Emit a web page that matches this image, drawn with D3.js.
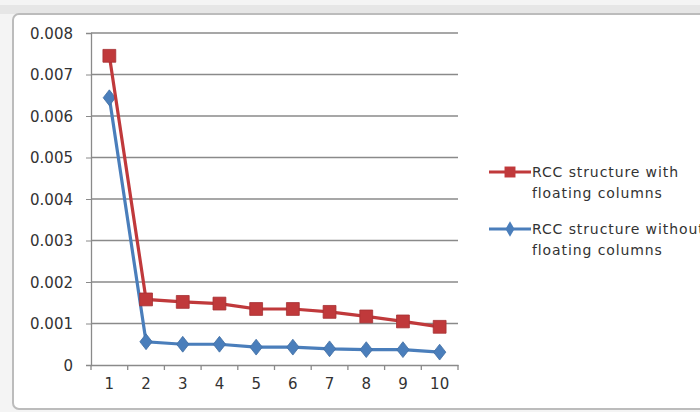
<!DOCTYPE html>
<html><head><meta charset="utf-8">
<script src="https://cdn.jsdelivr.net/npm/d3@7"></script>
<style>body{margin:0;background:#fff;}svg{display:block;font-family:"DejaVu Sans",Verdana,sans-serif;}</style>
</head><body>
<svg id="c" width="700" height="412"></svg>
<script>
const categories = ["1","2","3","4","5","6","7","8","9","10"];
const withFloating = [0.00745,0.00158,0.00152,0.00148,0.00135,0.00135,0.00128,0.00117,0.00105,0.00092];
const withoutFloating = [0.00644,0.00056,0.00050,0.00050,0.00043,0.00043,0.00039,0.00037,0.00037,0.00031];
const yTicks = [0,0.001,0.002,0.003,0.004,0.005,0.006,0.007,0.008];
const seriesNames = ["RCC structure with floating columns","RCC structure without floating columns"];

const svg = d3.select("#c");
// frame
svg.append("rect").attr("x",0).attr("y",0).attr("width",700).attr("height",412).attr("fill","#f4f4f4");
svg.append("rect").attr("x",0).attr("y",5).attr("width",700).attr("height",9).attr("fill","#e6e6e6");
svg.append("rect").attr("x",13).attr("y",14).attr("width",700).attr("height",395).attr("rx",6)
  .attr("fill","#fff").attr("stroke","#bcbcbc").attr("stroke-width",2);

const L=91,R=458,T=33,B=365;
const x = d3.scaleBand().domain(categories).range([L,R]);
const y = d3.scaleLinear().domain([0,0.008]).range([B,T]);

const g = svg.append("g");
g.selectAll("line.grid").data(yTicks.slice(1)).join("line")
  .attr("x1",L).attr("x2",R).attr("y1",d=>y(d)).attr("y2",d=>y(d))
  .attr("stroke","#8a8a8a").attr("stroke-width",1.3);

const ya = g.append("g").attr("transform",`translate(${L},0)`)
  .call(d3.axisLeft(y).tickValues(yTicks).tickFormat(d=>d===0?"0":d3.format(".3f")(d)).tickSize(5).tickPadding(13));
const xa = g.append("g").attr("transform",`translate(0,${B})`)
  .call(d3.axisBottom(x).tickSize(0).tickPadding(13));
[ya,xa].forEach(a=>{a.attr("font-family",null).attr("font-size",null);
  a.select(".domain").attr("stroke","#8a8a8a").attr("stroke-width",1.3);
  a.selectAll("text").attr("fill","#333").style("font-family","'DejaVu Sans'").style("font-size","15px");
  a.selectAll("line").attr("stroke","#8a8a8a");});
ya.selectAll("text").attr("dy","0.36em");
// x ticks between categories
g.selectAll("line.xt").data(d3.range(categories.length+1)).join("line")
  .attr("x1",i=>L+i*x.step()).attr("x2",i=>L+i*x.step()).attr("y1",B).attr("y2",B+5)
  .attr("stroke","#8a8a8a").attr("stroke-width",1.3);

const red="#c0393b", blue="#4a7ebb";
const line = d3.line().x((d,i)=>x(categories[i])+x.bandwidth()/2).y(d=>y(d));
function series(vals,color,shape){
  g.append("path").datum(vals).attr("d",line).attr("fill","none").attr("stroke",color).attr("stroke-width",3.2);
  g.selectAll(null).data(vals).join("path")
    .attr("d",d3.symbol().type(shape).size(shape===d3.symbolSquare?165:100))
    .attr("fill",color).attr("stroke",d3.color(color).darker(0.4)).attr("stroke-width",0.8)
    .attr("transform",function(d,i){const t=`translate(${x(categories[i])+x.bandwidth()/2},${y(d)})`;return shape===d3.symbolDiamond?t+" scale(1.15,0.85)":t;});
}
series(withoutFloating,blue,d3.symbolDiamond);
series(withFloating,red,d3.symbolSquare);

// legend
const leg=[{c:red,s:d3.symbolSquare,y:172,l:["RCC structure with","floating columns"]},
           {c:blue,s:d3.symbolDiamond,y:229,l:["RCC structure without","floating columns"]}];
leg.forEach(o=>{
  svg.append("line").attr("x1",489).attr("x2",531).attr("y1",o.y).attr("y2",o.y).attr("stroke",o.c).attr("stroke-width",3);
  svg.append("path").attr("transform",`translate(510,${o.y})`).attr("d",d3.symbol().type(o.s).size(o.s===d3.symbolSquare?120:70)).attr("fill",o.c);
  o.l.forEach((t,i)=>svg.append("text").attr("x",532).attr("y",o.y+5+i*21)
    .style("font-size","14px").style("letter-spacing","0.9px").attr("fill","#333").text(t));
});
</script>
</body></html>
